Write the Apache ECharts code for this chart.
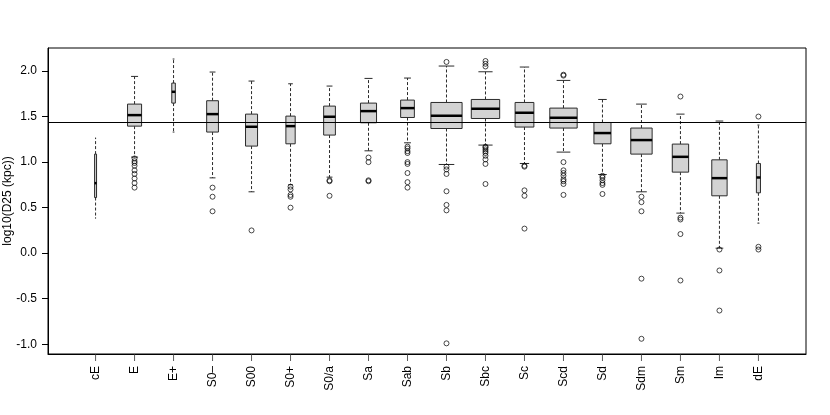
<!DOCTYPE html>
<html>
<head>
<meta charset="utf-8">
<script src="https://cdn.jsdelivr.net/npm/echarts@6/dist/echarts.min.js"></script>
<style>
  html, body { margin: 0; padding: 0; background: #fff; }
  #boxChart { width: 830px; height: 415px; }
</style>
</head>
<body>
<div id="boxChart"></div>
<script>
// 类型
var categories = ['cE', 'E', 'E+', 'S0–', 'S00', 'S0+', 'S0/a', 'Sa', 'Sab', 'Sb', 'Sbc', 'Sc', 'Scd', 'Sd', 'Sdm', 'Sm', 'Im', 'dE'];
// 箱线图五数
var whiskerLow  = [0.385, 1.055, 1.33, 0.827, 0.674, 0.751, 0.835, 1.124, 1.212, 0.974, 1.187, 0.985, 1.110, 0.864, 0.674, 0.440, 0.055, 0.330];
var quart1      = [0.611, 1.395, 1.648, 1.330, 1.176, 1.201, 1.297, 1.432, 1.490, 1.369, 1.479, 1.385, 1.374, 1.201, 1.088, 0.890, 0.630, 0.663];
var medians     = [0.769, 1.516, 1.772, 1.527, 1.388, 1.395, 1.498, 1.560, 1.593, 1.509, 1.586, 1.542, 1.487, 1.319, 1.242, 1.058, 0.824, 0.831];
var quart3      = [1.088, 1.637, 1.868, 1.674, 1.527, 1.505, 1.615, 1.648, 1.681, 1.655, 1.688, 1.655, 1.593, 1.435, 1.374, 1.198, 1.025, 0.985];
var whiskerHigh = [1.264, 1.941, 2.132, 1.989, 1.890, 1.860, 1.835, 1.919, 1.923, 2.055, 1.992, 2.044, 1.897, 1.688, 1.637, 1.527, 1.451, 1.407];
// 每类样本数 (箱宽 ~ sqrt(n))
var counts      = [4, 203, 13, 142, 149, 89, 142, 265, 194, 1000, 828, 362, 770, 299, 469, 275, 242, 17];
// 离群点
var outliers = [
    [],
    [1.04, 1.01, 0.99, 0.96, 0.91, 0.87, 0.82, 0.77, 0.72],
    [],
    [0.72, 0.62, 0.46],
    [0.25],
    [0.73, 0.70, 0.64, 0.62, 0.50],
    [0.80, 0.79, 0.63],
    [1.05, 1.00, 0.80, 0.79],
    [1.17, 1.15, 1.12, 1.10, 1.00, 0.98, 0.88, 0.78, 0.72],
    [2.10, 0.95, 0.92, 0.87, 0.68, 0.53, 0.47, -0.99],
    [2.11, 2.08, 2.05, 1.17, 1.16, 1.14, 1.12, 1.10, 1.07, 1.03, 0.98, 0.76],
    [0.96, 0.95, 0.69, 0.63, 0.27],
    [1.96, 1.95, 1.00, 0.91, 0.88, 0.85, 0.81, 0.79, 0.76, 0.64],
    [0.85, 0.83, 0.80, 0.77, 0.75, 0.65],
    [0.62, 0.56, 0.46, -0.28, -0.94],
    [1.72, 0.39, 0.37, 0.21, -0.30],
    [0.04, -0.19, -0.63],
    [1.50, 0.07, 0.04]
];
var refLine = 1.44;
var yTicks = [-1.0, -0.5, 0.0, 0.5, 1.0, 1.5, 2.0];
var yMin = -1.107, yMax = 2.253;

var maxCount = Math.max.apply(null, counts);
var xTicks = [];
var tickData = [];
var boxData = [];
var outlierData = [];
for (var i = 0; i < categories.length; i++) {
    xTicks.push(i + 1);
    tickData.push([i + 1, yMin]);
    boxData.push([i + 1, whiskerLow[i], quart1[i], medians[i], quart3[i], whiskerHigh[i], counts[i]]);
    for (var j = 0; j < outliers[i].length; j++) {
        outlierData.push([i + 1, outliers[i][j]]);
    }
}

var lineColor = '#2b2b2b';

function renderBox(params, api) {
    var x = api.value(0);
    var rel = 0.8 * Math.sqrt(api.value(6) / maxCount);
    var w = api.size([rel, 0])[0];
    var pLo = api.coord([x, api.value(1)]);
    var pQ1 = api.coord([x, api.value(2)]);
    var pMed = api.coord([x, api.value(3)]);
    var pQ3 = api.coord([x, api.value(4)]);
    var pHi = api.coord([x, api.value(5)]);
    var cx = pMed[0];
    var dash = { stroke: lineColor, lineWidth: 1, lineDash: [3, 2] };
    var solid = { stroke: lineColor, lineWidth: 1 };
    return {
        type: 'group',
        children: [
            { type: 'line', shape: { x1: cx, y1: pQ3[1], x2: cx, y2: pHi[1] }, style: dash },
            { type: 'line', shape: { x1: cx, y1: pQ1[1], x2: cx, y2: pLo[1] }, style: dash },
            { type: 'line', shape: { x1: cx - w / 4, y1: pHi[1], x2: cx + w / 4, y2: pHi[1] }, style: solid },
            { type: 'line', shape: { x1: cx - w / 4, y1: pLo[1], x2: cx + w / 4, y2: pLo[1] }, style: solid },
            {
                type: 'rect',
                shape: { x: cx - w / 2, y: pQ3[1], width: w, height: pQ1[1] - pQ3[1] },
                style: { fill: '#d3d3d3', stroke: lineColor, lineWidth: 1 }
            },
            {
                type: 'line',
                shape: { x1: cx - w / 2, y1: pMed[1], x2: cx + w / 2, y2: pMed[1] },
                style: { stroke: '#000', lineWidth: 2.5 }
            }
        ]
    };
}

var myChart = echarts.init(document.getElementById('boxChart'));
var option = {
    animation: false,
    textStyle: { fontFamily: 'Liberation Sans, Arial, sans-serif' },
    grid: {
        left: 48, right: 24, top: 48, bottom: 61,
        show: true, borderColor: '#000', borderWidth: 1,
        outerBoundsMode: 'none'
    },
    xAxis: {
        type: 'value',
        position: 'bottom',
        min: -0.22,
        max: 19.22,
        axisLine: { show: true, onZero: false, lineStyle: { color: '#000', width: 1 } },
        splitLine: { show: false },
        axisTick: { show: false },
        axisLabel: {
            customValues: xTicks,
            interval: 0,
            hideOverlap: false,
            rotate: 90,
            margin: 12,
            fontSize: 12,
            color: '#000',
            formatter: function (v) { return categories[Math.round(v) - 1]; }
        }
    },
    yAxis: {
        type: 'value',
        position: 'left',
        min: yMin,
        max: yMax,
        name: 'log10(D25 (kpc))',
        nameLocation: 'middle',
        nameGap: 34,
        nameMoveOverlap: false,
        nameTextStyle: { fontSize: 12, color: '#000' },
        axisLine: { show: true, onZero: false, lineStyle: { color: '#000', width: 1 } },
        splitLine: { show: false },
        axisTick: { show: true, length: 6, interval: 0, customValues: yTicks, lineStyle: { color: '#000' } },
        axisLabel: {
            customValues: yTicks,
            margin: 11,
            fontSize: 12,
            color: '#000',
            formatter: function (v) { return v.toFixed(1); }
        }
    },
    series: [
        {
            type: 'custom',
            name: 'box',
            renderItem: renderBox,
            data: boxData,
            clip: false,
            encode: { x: 0, y: [1, 2, 3, 4, 5] },
            z: 2
        },
        {
            // x轴刻度线
            type: 'scatter',
            name: 'tick',
            data: tickData,
            symbol: 'rect',
            symbolSize: [1, 7],
            symbolOffset: [0, 3.5],
            clip: false,
            silent: true,
            itemStyle: { color: '#333' },
            z: 4
        },
        {
            type: 'scatter',
            name: 'outlier',
            data: outlierData,
            symbol: 'circle',
            symbolSize: 5,
            itemStyle: { color: 'rgba(0,0,0,0)', borderColor: '#000', borderWidth: 0.9 },
            z: 3,
            markLine: {
                silent: true,
                symbol: 'none',
                label: { show: false },
                lineStyle: { color: '#000', width: 1, type: 'solid' },
                data: [{ yAxis: refLine }]
            }
        }
    ]
};
myChart.setOption(option);
</script>
</body>
</html>
